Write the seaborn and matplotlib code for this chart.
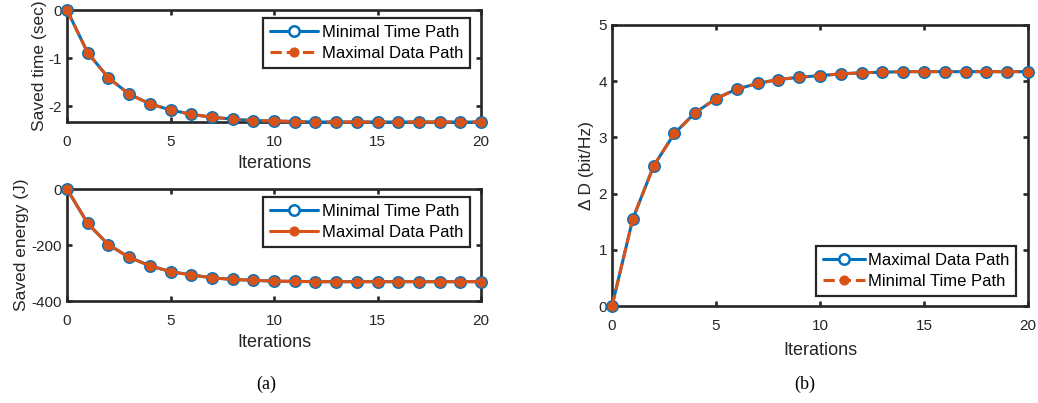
import numpy as np
import pandas as pd
import seaborn as sns
import matplotlib
matplotlib.use("Agg")
import matplotlib.pyplot as plt

# ---- data -------------------------------------------------------------
iterations = list(range(21))

saved_time_min_time = [0, -0.89, -1.41, -1.75, -1.95, -2.08, -2.17, -2.23, -2.27, -2.30,
                       -2.31, -2.32, -2.33, -2.33, -2.33, -2.33, -2.33, -2.33, -2.33, -2.33, -2.33]
saved_time_max_data = [0, -0.89, -1.41, -1.75, -1.95, -2.08, -2.17, -2.23, -2.27, -2.30,
                       -2.31, -2.32, -2.33, -2.33, -2.33, -2.33, -2.33, -2.33, -2.33, -2.33, -2.33]

saved_energy_min_time = [0, -123, -199, -244, -274, -295, -307, -317, -323, -326,
                         -329, -330, -331, -331, -331, -331, -331, -331, -331, -331, -331]
saved_energy_max_data = [0, -123, -199, -244, -274, -295, -307, -317, -323, -326,
                         -329, -330, -331, -331, -331, -331, -331, -331, -331, -331, -331]

delta_d_max_data = [0, 1.55, 2.49, 3.07, 3.44, 3.69, 3.86, 3.96, 4.03, 4.07,
                    4.10, 4.13, 4.15, 4.16, 4.17, 4.17, 4.17, 4.17, 4.17, 4.17, 4.17]
delta_d_min_time = [0, 1.55, 2.49, 3.07, 3.44, 3.69, 3.86, 3.96, 4.03, 4.07,
                    4.10, 4.13, 4.15, 4.16, 4.17, 4.17, 4.17, 4.17, 4.17, 4.17, 4.17]

x_ticks = [0, 5, 10, 15, 20]
time_ticks = [-2, -1, 0]
energy_ticks = [-400, -200, 0]
delta_ticks = [0, 1, 2, 3, 4, 5]

# ---- style ------------------------------------------------------------
sns.set_theme(style="ticks")
plt.rcParams["font.family"] = ["Liberation Sans", "DejaVu Sans"]
plt.rcParams["axes.unicode_minus"] = False

BLUE = "#0072BD"
ORANGE = "#D95319"
INK = "#262626"

W, H = 1038, 403
fig = plt.figure(figsize=(W / 100, H / 100), dpi=100)


def px_axes(x0, y0, x1, y1):
    return fig.add_axes([x0 / W, 1 - y1 / H, (x1 - x0) / W, (y1 - y0) / H])


def style_axes(ax, xlabelpad):
    for s in ax.spines.values():
        s.set_color(INK)
        s.set_linewidth(1.9)
    ax.tick_params(direction="in", length=3.5, width=1.9, color=INK,
                   labelcolor=INK, labelsize=11, top=True, right=True)
    ax.tick_params(axis="x", pad=9.5)
    ax.tick_params(axis="y", pad=3.5)
    ax.set_xlim(0, 20)
    ax.set_xticks(x_ticks)
    ax.set_xlabel("Iterations", fontsize=13, color=INK, labelpad=xlabelpad)


def draw_pair(ax, y_blue, lab_blue, y_orange, lab_orange, orange_dashed):
    sns.lineplot(x=iterations, y=y_blue, ax=ax, color=BLUE, linewidth=2.2,
                 marker="o", markersize=7.5, markeredgewidth=1.8,
                 markeredgecolor=BLUE, markerfacecolor="white",
                 label=lab_blue, zorder=3, clip_on=False)
    sns.lineplot(x=iterations, y=y_orange, ax=ax, color=ORANGE, linewidth=2.2,
                 linestyle="--" if orange_dashed else "-",
                 marker="o", markersize=6.5, markeredgewidth=0.8,
                 markeredgecolor=ORANGE, markerfacecolor=ORANGE,
                 label=lab_orange, zorder=4, clip_on=False)


def add_legend(ax, loc, anchor, handlelength=2.9):
    leg = ax.legend(loc=loc, bbox_to_anchor=anchor, fontsize=12, frameon=True,
                    fancybox=False, edgecolor=INK, framealpha=1,
                    handlelength=handlelength, handletextpad=0.2, borderpad=0.4,
                    labelspacing=0.38, borderaxespad=0)
    leg.get_frame().set_linewidth(1.6)
    for t in leg.get_texts():
        t.set_color("black")


# (a) top: saved time
ax1 = px_axes(67, 10, 481, 122)
draw_pair(ax1, saved_time_min_time, "Minimal Time Path",
          saved_time_max_data, "Maximal Data Path", True)
style_axes(ax1, 4.5)
ax1.set_ylim(min(saved_time_min_time), 0)
ax1.set_yticks(time_ticks)
ax1.set_ylabel("Saved time (sec)", fontsize=12.5, color=INK, labelpad=1.5)
add_legend(ax1, "upper right", (0.973, 0.93))

# (a) bottom: saved energy
ax2 = px_axes(67, 189, 481, 301)
draw_pair(ax2, saved_energy_min_time, "Minimal Time Path",
          saved_energy_max_data, "Maximal Data Path", False)
style_axes(ax2, 4.5)
ax2.set_ylim(-400, 0)
ax2.set_yticks(energy_ticks)
ax2.set_ylabel("Saved energy (J)", fontsize=12.5, color=INK, labelpad=1.8)
add_legend(ax2, "upper right", (0.973, 0.93))

# (b) data gain
ax3 = px_axes(612, 25, 1028, 306)
draw_pair(ax3, delta_d_max_data, "Maximal Data Path",
          delta_d_min_time, "Minimal Time Path", True)
style_axes(ax3, 6.5)
ax3.set_ylim(0, 5)
ax3.set_yticks(delta_ticks)
ax3.set_ylabel("\u0394 D (bit/Hz)", fontsize=12.5, color=INK, labelpad=3.7)
add_legend(ax3, "lower right", (0.971, 0.036), handlelength=2.5)

# captions
fig.text(266 / W, 1 - 384 / H, "(a)", ha="center", va="center",
         fontsize=13, family="Liberation Serif", color="black")
fig.text(805 / W, 1 - 384 / H, "(b)", ha="center", va="center",
         fontsize=13, family="Liberation Serif", color="black")

fig.savefig("out.png", dpi=100, facecolor="white")
